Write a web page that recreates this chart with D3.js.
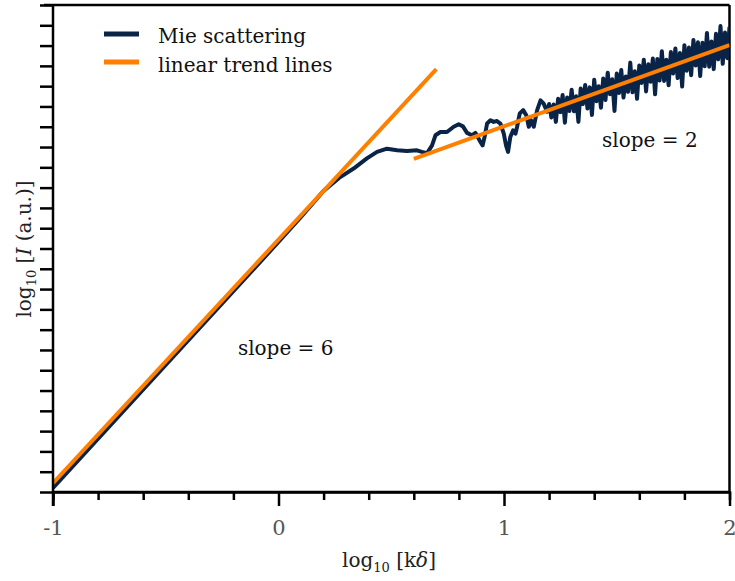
<!DOCTYPE html>
<html><head><meta charset="utf-8">
<script src="https://cdn.jsdelivr.net/npm/d3@7"></script>
<style>body{margin:0;background:#fff}svg{display:block}</style>
</head><body>
<svg id="c" width="735" height="581"></svg>
<script>
// ---- data ----
const mieX = [-1.0,-0.5,0.0,0.1,0.2,0.274,0.333,0.392,0.437,0.481,0.526,0.570,0.614,0.636,0.659,0.681,0.696,0.718,0.747,0.777,0.799,0.818,0.836,0.858,0.873,0.883,0.895,0.905,0.914,0.925,0.940,0.954,0.969,0.984,0.999,1.009,1.018,1.028,1.040,1.051,1.058,1.070,1.085,1.099,1.110,1.120,1.132,1.147,1.162,1.176,1.191,
1.20,1.21,1.22,1.23,1.24,1.25,1.26,1.27,1.28,1.29,1.30,1.31,1.32,1.33,1.34,1.35,1.36,1.37,1.38,1.39,1.40,1.41,1.42,1.43,1.44,1.45,1.46,1.47,1.48,1.49,1.50,1.51,1.52,1.53,1.54,1.55,1.56,1.57,1.58,1.59,1.60,1.61,1.62,1.63,1.64,1.65,1.66,1.67,1.68,1.69,1.70,1.71,1.72,1.73,1.74,1.75,1.76,1.77,1.78,1.79,1.80,1.81,1.82,1.83,1.84,1.85,1.86,1.87,1.88,1.89,1.90,1.91,1.92,1.93,1.94,1.95,1.96,1.97,1.98,1.99,2.00];
const mieY = [-6.00,-2.97,0.06,0.68,1.32,1.66,1.87,2.12,2.28,2.36,2.32,2.30,2.32,2.28,2.25,2.44,2.69,2.77,2.77,2.90,2.96,2.91,2.75,2.69,2.75,2.65,2.53,2.44,2.65,2.98,3.06,3.02,3.04,2.98,2.73,2.44,2.28,2.65,2.81,2.73,2.90,3.23,3.31,3.18,2.90,3.06,2.90,3.31,3.55,3.47,3.27,
3.46,3.13,3.45,3.02,3.59,3.26,3.68,3.00,3.62,3.29,3.81,3.28,3.65,3.02,3.84,3.46,3.93,3.35,3.87,3.19,4.06,3.53,3.90,3.37,4.09,3.56,4.23,3.70,4.07,3.29,4.21,3.73,4.30,3.62,4.14,3.76,4.48,3.75,4.27,3.59,4.41,3.98,4.55,3.77,4.44,4.01,4.58,3.70,4.57,4.04,4.76,4.03,4.55,3.92,4.74,4.21,4.83,4.10,4.72,3.89,4.91,4.28,4.85,4.17,5.04,4.41,4.98,4.15,4.97,4.39,5.21,4.38,5.00,4.32,5.19,4.56,5.38,4.45,5.22,4.59,5.36];
const trend6X = [-1.0, 0.7];
const trend6Y = [-5.88, 4.32];
const trend2X = [0.6, 2.0];
const trend2Y = [2.11, 4.91];
const xMajorTicks = [-1, 0, 1, 2];
const xTickLabels = ["-1", "0", "1", "2"];
const xMinorTicks = [-0.8,-0.6,-0.4,-0.2,0.2,0.4,0.6,0.8,1.2,1.4,1.6,1.8];
const yTicks = d3.range(0, 25).map(i => -6.1 + i * 0.5);
const legendLabels = ["Mie scattering", "linear trend lines"];
const annotations = [{text: "slope = 6", x: -0.18, y: -2.72}, {text: "slope = 2", x: 1.435, y: 2.40}];

const NAVY = "#0a2448", ORANGE = "#ff8000";
const FONT = "'DejaVu Serif', serif";

const svg = d3.select("#c");
const L = 53, R = 729.5, T = 5, B = 492;
const x = d3.scaleLinear().domain([-1, 2]).range([L, R]);
const y = d3.scaleLinear().domain([-6.1, 5.9]).range([B, T]);

// frame top/right
svg.append("line").attr("x1", 44).attr("x2", R).attr("y1", T).attr("y2", T).attr("stroke", "#000").attr("stroke-width", 2.5);
svg.append("line").attr("x1", R).attr("x2", R).attr("y1", T).attr("y2", B).attr("stroke", "#000").attr("stroke-width", 2.5);

// clip
svg.append("clipPath").attr("id", "clip").append("rect").attr("x", L).attr("y", T).attr("width", R - L).attr("height", B - T);
const g = svg.append("g").attr("clip-path", "url(#clip)");

const line = d3.line().x(d => x(d[0])).y(d => y(d[1]));
const miePts = mieX.map((v, i) => [v, mieY[i]]);
g.append("path").attr("d", line(miePts)).attr("fill", "none").attr("stroke", NAVY).attr("stroke-width", 4).attr("stroke-linejoin", "round");
g.append("path").attr("d", line(trend6X.map((v, i) => [v, trend6Y[i]]))).attr("fill", "none").attr("stroke", ORANGE).attr("stroke-width", 4);
g.append("path").attr("d", line(trend2X.map((v, i) => [v, trend2Y[i]]))).attr("fill", "none").attr("stroke", ORANGE).attr("stroke-width", 4);

// axes
const xMinor = svg.append("g").attr("transform", `translate(0,${B})`)
  .call(d3.axisBottom(x).tickValues(xMinorTicks).tickSize(8).tickFormat(""));
const xMajor = svg.append("g").attr("transform", `translate(0,${B})`)
  .call(d3.axisBottom(x).tickValues(xMajorTicks).tickSize(14).tickPadding(14).tickFormat((d, i) => xTickLabels[i]));
const yAx = svg.append("g").attr("transform", `translate(${L},0)`)
  .call(d3.axisLeft(y).tickValues(yTicks).tickSize(13).tickFormat(""));
[xMinor, xMajor, yAx].forEach(a => {
  a.selectAll("path.domain").attr("stroke", "#000").attr("stroke-width", 2.5);
  a.selectAll(".tick line").attr("stroke", "#000").attr("stroke-width", 2.5);
});
xMajor.select("path.domain").attr("d", `M${L},0H${R}`);
yAx.select("path.domain").attr("d", `M0,${T}V${B + 14}`);
xMajor.selectAll(".tick text").attr("font-family", FONT).attr("font-size", 21).attr("fill", "#555");

// axis titles
const xt = svg.append("text").attr("x", 389).attr("y", 567).attr("text-anchor", "middle")
  .attr("font-family", FONT).attr("font-size", 20).attr("fill", "#222");
xt.append("tspan").text("log");
xt.append("tspan").text("10").attr("font-size", 13).attr("dy", 5);
xt.append("tspan").text(" [k").attr("dy", -5);
xt.append("tspan").text("δ").attr("font-style", "italic");
xt.append("tspan").text("]");

const yt = svg.append("text").attr("transform", "translate(31,249) rotate(-90)").attr("text-anchor", "middle")
  .attr("font-family", FONT).attr("font-size", 20).attr("fill", "#222");
yt.append("tspan").text("log");
yt.append("tspan").text("10").attr("font-size", 13).attr("dy", 5);
yt.append("tspan").text(" [").attr("dy", -5);
yt.append("tspan").text("I").attr("font-style", "italic");
yt.append("tspan").text(" (a.u.)]");

// legend
const lg = svg.append("g");
[NAVY, ORANGE].forEach((c, i) => {
  lg.append("line").attr("x1", 104).attr("x2", 139).attr("y1", 34 + i * 28).attr("y2", 34 + i * 28).attr("stroke", c).attr("stroke-width", 5);
  lg.append("text").attr("x", 158).attr("y", 43 + i * 28.5).text(legendLabels[i])
    .attr("font-family", FONT).attr("font-size", 20).attr("fill", "#111");
});

// annotations
annotations.forEach(a => {
  svg.append("text").attr("x", x(a.x)).attr("y", y(a.y)).text(a.text)
    .attr("font-family", FONT).attr("font-size", 20).attr("fill", "#111");
});
</script>
</body></html>
